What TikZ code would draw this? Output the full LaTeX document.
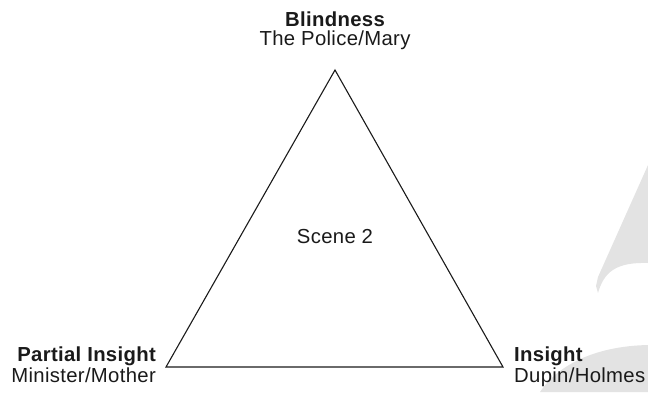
\documentclass[tikz,border=0pt]{standalone}
\usepackage{fontspec}
\setmainfont[LetterSpace=1.6]{Liberation Sans}
\usetikzlibrary{positioning}
\definecolor{trishade}{HTML}{E3E3E3}
\definecolor{triink}{HTML}{1A1A1A}

\begin{document}
\begin{tikzpicture}[
      x=1pt, y=-1pt,
      head/.style={inner sep=0pt, font=\fontsize{20.3}{24}\selectfont\bfseries\color{triink}},
      sub/.style={inner sep=0pt, font=\fontsize{20.3}{24}\selectfont\color{triink}},
      edge/.style={line width=1.1pt, triink, line join=miter},
      shade/.style={fill=trishade, draw=none}
    ]
      \useasboundingbox (0,0) rectangle (648,392);

      % faint grey shapes at the right margin
      \fill[shade] (648,165) -- (598,277) -- (596,286) -- (598,293)
        .. controls (604,272) and (616,262) .. (648,263) -- cycle;
      \fill[shade] (540,392) .. controls (560,362) and (600,346) .. (648,345)
        -- (648,392) -- cycle;

      % corners of the triangle
      \coordinate (apex) at (335,70);
      \coordinate (left) at (166,367);
      \coordinate (right) at (503,367);
      \draw[edge] (left) -- (apex) -- (right) -- cycle;

      \node[sub, anchor=base] (scene) at (335,243) {Scene 2};

      % labels at the corners
      \node[head, anchor=base] (blind) at (335,26) {Blindness};
      \node[sub, anchor=base] (police) at (335,45) {The Police/Mary};
      \node[head, anchor=base east] (partial) at (156,361) {Partial Insight};
      \node[sub, anchor=base east] (minister) at (156,382) {Minister/Mother};
      \node[head, anchor=base west] (insight) at (514,361) {Insight};
      \node[sub, anchor=base west] (dupin) at (514,382) {Dupin/Holmes};
    \end{tikzpicture}
\end{document}
